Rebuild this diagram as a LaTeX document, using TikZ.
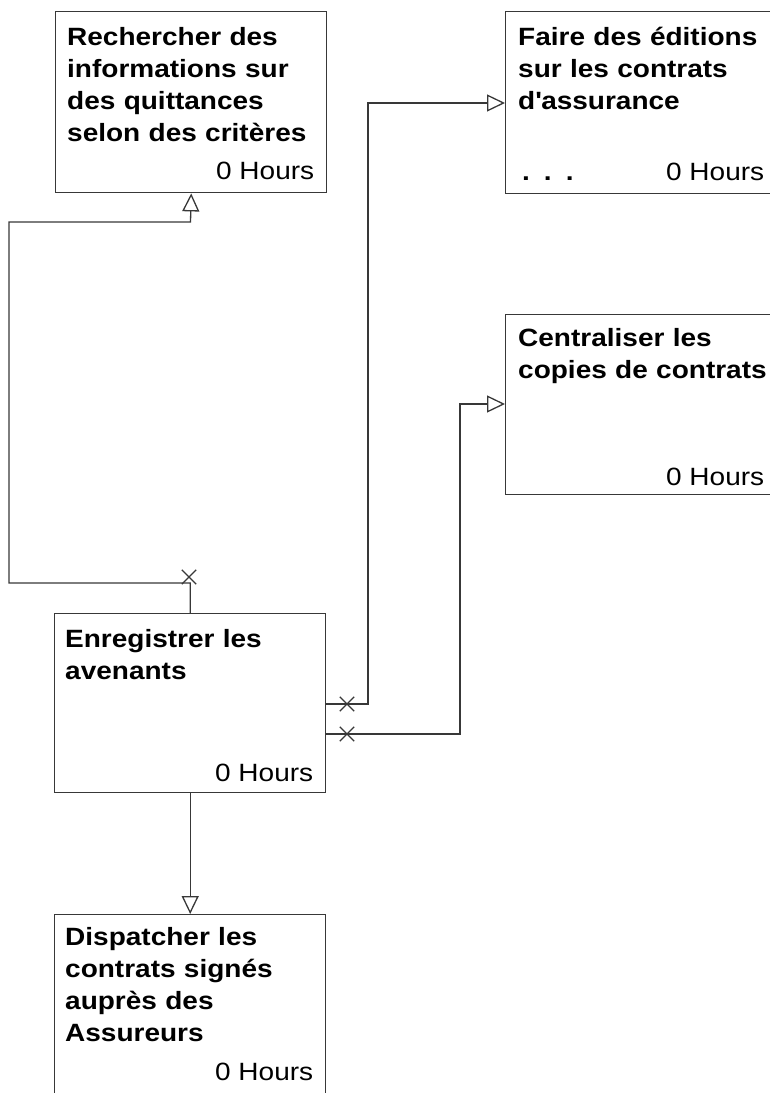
\documentclass[tikz,border=0pt]{standalone}
\usepackage{fontspec}
\setmainfont{Liberation Sans}[FakeStretch=1.12]
\usetikzlibrary{calc,arrows.meta,shapes.misc}
\begin{document}
\begin{tikzpicture}[x=1pt,y=-1pt,
  taskbox/.style={draw=black!78,line width=1.4pt,rectangle,inner sep=0pt,anchor=north west},
  title/.style={anchor=base west,inner sep=0pt,text width=262pt,align=left,
    font=\fontsize{25}{32}\selectfont\bfseries},
  hours/.style={anchor=base east,inner sep=0pt,font=\fontsize{25}{32}\selectfont},
  link/.style={draw=black!78,line width=1.3pt},
  flow/.style={link,-{Triangle[open,length=18pt,width=17pt,line width=1.3pt]}},
  xmark/.style={cross out,draw=black!78,line width=1.3pt,minimum size=13pt,inner sep=0pt}]
\useasboundingbox (0,0) rectangle (770,1093);
\clip (0,0) rectangle (770,1093);

% task boxes
\node[taskbox,minimum width=271pt,minimum height=181pt] (rech) at (55,11) {};
\node[taskbox,minimum width=271pt,minimum height=182pt] (edit) at (505,11) {};
\node[taskbox,minimum width=271pt,minimum height=180pt] (cent) at (505,314) {};
\node[taskbox,minimum width=271pt,minimum height=179pt] (enre) at (54,613) {};
\node[taskbox,minimum width=271pt,minimum height=196pt] (disp) at (54,914) {};

% titles
\node[title] (rechT) at ($(rech.north west)+(12,34)$)
  {Rechercher des\\informations sur\\des quittances\\selon des critères};
\node[title] (editT) at ($(edit.north west)+(13,34)$)
  {Faire des éditions\\sur les contrats\\d\textquotesingle assurance};
\node[title] (centT) at ($(cent.north west)+(13,32)$)
  {Centraliser les\\copies de contrats};
\node[title] (enreT) at ($(enre.north west)+(11,34)$)
  {Enregistrer les\\avenants};
\node[title] (dispT) at ($(disp.north west)+(11,31)$)
  {Dispatcher les\\contrats signés\\auprès des\\Assureurs};

% durations
\node[hours] (rechH) at ($(rech.south east)+(-13,-14)$) {0 Hours};
\node[hours] (editH) at ($(edit.south east)+(-13,-14)$) {0 Hours};
\node[hours] (centH) at ($(cent.south east)+(-13,-10)$) {0 Hours};
\node[hours] (enreH) at ($(enre.south east)+(-13,-12)$) {0 Hours};
\node[hours] (dispH) at ($(disp.north east)+(-13,166)$) {0 Hours};
\node[anchor=base west,inner sep=0pt,font=\fontsize{25}{32}\selectfont\bfseries] (editD)
  at ($(edit.south west)+(17,-14)$) {.\hspace{14pt}.\hspace{14pt}.};

% connector bends
\coordinate (k1) at (189,583);
\coordinate (k2) at (9,583);
\coordinate (k3) at (9,222);
\coordinate (k4) at (190.5,222);
\coordinate (s2) at (325,704);
\coordinate (s3) at (325,734);

% connectors
\draw[flow] (enre.north) |- (k2) -- (k3) -- (k4) -- (rech.south);
\draw[flow] (s2) -| (368,103) -- (edit.west |- 0,103);
\draw[flow] (s3) -| (460,404) -- (cent.west |- 0,404);
\draw[flow] (enre.south) -- (disp.north);

% origin marks
\node[xmark] (x1) at (189,577) {};
\node[xmark] (x2) at (347,704) {};
\node[xmark] (x3) at (347,734) {};
\end{tikzpicture}
\end{document}
